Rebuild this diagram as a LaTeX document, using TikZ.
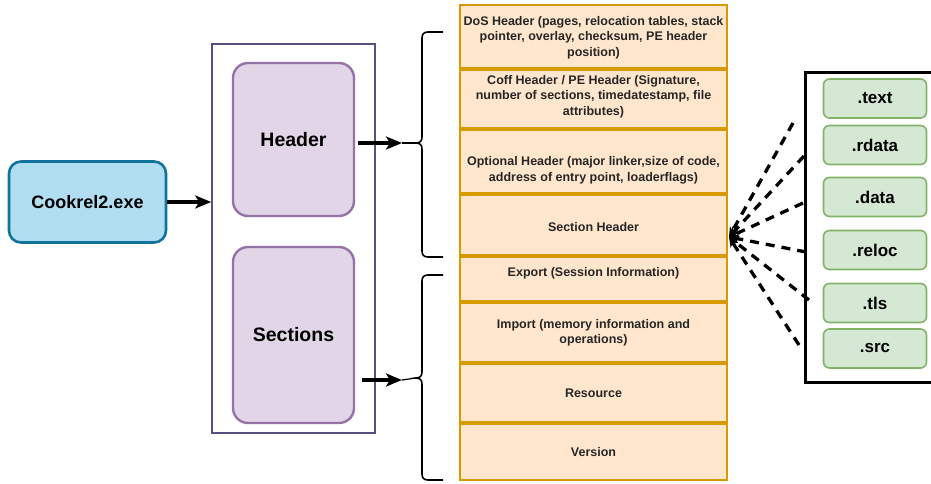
\documentclass[tikz,border=0pt]{standalone}
\usepackage{fontspec}
\setmainfont{Liberation Sans}
\usetikzlibrary{arrows.meta}
\definecolor{exefill}{HTML}{B1DDF0}
\definecolor{exeline}{HTML}{10739E}
\definecolor{partfill}{HTML}{E1D5E7}
\definecolor{partline}{HTML}{9673A6}
\definecolor{outerline}{HTML}{56517E}
\definecolor{rowfill}{HTML}{FFE6CC}
\definecolor{rowline}{HTML}{D79B00}
\definecolor{secfill}{HTML}{D5E8D4}
\definecolor{secline}{HTML}{82B366}
\begin{document}
\begin{tikzpicture}[x=1pt,y=-1pt,
  exebox/.style={draw=exeline,fill=exefill,line width=2.6pt,rounded corners=12pt,
    minimum width=157pt,minimum height=81pt,inner sep=0pt,
    font=\fontsize{18}{20}\selectfont\bfseries},
  partbox/.style={draw=partline,fill=partfill,line width=2.4pt,rounded corners=15pt,
    minimum width=121pt,inner sep=0pt,font=\fontsize{19.5}{22}\selectfont\bfseries},
  outerbox/.style={draw=outerline,line width=1.6pt,inner sep=0pt},
  rowbox/.style={draw=rowline,fill=rowfill,line width=2pt},
  rowtext/.style={align=center,inner sep=0pt,text=black!85,
    font=\fontsize{12.5}{15.5}\selectfont\bfseries},
  secbox/.style={draw=black,line width=3pt,inner sep=0pt},
  sectag/.style={draw=secline,fill=secfill,line width=1.6pt,rounded corners=6pt,
    minimum width=103pt,minimum height=39pt,inner sep=0pt,
    font=\fontsize{17}{19}\selectfont\bfseries},
  bigarrow/.style={line width=3.3pt,-{Stealth[length=16pt,width=13pt,inset=4pt]}},
  bracestyle/.style={line width=1.6pt},
  linkarrow/.style={line width=3.3pt,dash pattern=on 9pt off 7pt,
    -{Stealth[length=10pt,width=9pt]}}]
\useasboundingbox[fill=white] (0,0) rectangle (931,484);

% executable and its two parts
\node[exebox] (exe) at (87.5,202) {Cookrel2.exe};
\node[outerbox,minimum width=163pt,minimum height=389pt] (outer) at (293.5,238.5) {};
\node[partbox,minimum height=153pt] (header) at (293.5,139.5) {Header};
\node[partbox,minimum height=176pt] (sections) at (293.5,335) {Sections};

\draw[bigarrow] (exe.east) -- (outer.west |- exe.east);

% braces
\coordinate (cuspA) at (416,143);
\coordinate (cuspB) at (416,378);
\draw[bracestyle] (443,32) -- (428,32) .. controls (424,32) and (422,34) .. (422,38)
  -- (422,137) .. controls (422,141) and (420,143) .. (cuspA)
  .. controls (420,143) and (422,145) .. (422,149) -- (422,251)
  .. controls (422,255) and (424,257) .. (428,257) -- (443,257);
\draw[bracestyle] (443,275) -- (428,275) .. controls (424,275) and (422,277) .. (422,281)
  -- (422,372) .. controls (422,376) and (420,378) .. (cuspB)
  .. controls (420,378) and (422,380) .. (422,384) -- (422,474)
  .. controls (422,478) and (424,480) .. (428,480) -- (443,480);

\coordinate (hA) at (402,143);
\coordinate (hS) at (402,380);
\coordinate (hAs) at (358,143);
\coordinate (hSs) at (362,380);
\draw[bigarrow] (hAs) -- (hA);
\draw[line width=1.2pt] (hA) -- (cuspA);
\draw[bigarrow] (hSs) -- (hS);
\draw[line width=1.2pt] (hS) -- (cuspB);

% PE layout rows
\path[rowbox] (460,5) rectangle (727,68);
\path[rowbox] (460,70) rectangle (727,128);
\path[rowbox] (460,130) rectangle (727,193);
\path[rowbox] (460,195) rectangle (727,255);
\path[rowbox] (460,257) rectangle (727,301);
\path[rowbox] (460,303) rectangle (727,362);
\path[rowbox] (460,364) rectangle (727,422);
\path[rowbox] (460,424) rectangle (727,480);

\node[rowtext] (t1) at (593.5,37.5) {DoS Header (pages, relocation tables, stack\\pointer, overlay, checksum, PE header\\position)};
\node[rowtext] (t2) at (593.5,96.5) {Coff Header / PE Header (Signature,\\number of sections, timedatestamp, file\\attributes)};
\node[rowtext] (t3) at (593.5,170.5) {Optional Header (major linker,size of code,\\address of entry point, loaderflags)};
\node[rowtext] (t4) at (593.5,227) {Section Header};
\node[rowtext] (t5) at (593.5,273) {Export (Session Information)};
\node[rowtext] (t6) at (593.5,333) {Import (memory information and\\operations)};
\node[rowtext] (t7) at (593.5,393) {Resource};
\node[rowtext] (t8) at (593.5,452) {Version};

% section names
\node[secbox,minimum width=140pt,minimum height=309pt] (secs) at (875,227.5) {};
\node[sectag] (s1) at (875,98.5) {.text};
\node[sectag] (s2) at (875,145) {.rdata};
\node[sectag] (s3) at (875,197) {.data};
\node[sectag] (s4) at (875,250) {.reloc};
\node[sectag] (s5) at (875,303) {.tls};
\node[sectag] (s6) at (875,348.5) {.src};

% links back to the section header
\coordinate (sh) at (729,237);
\coordinate (e1) at (793,123);
\coordinate (e2) at (804,156);
\coordinate (e3) at (803,203);
\coordinate (e4) at (806,252);
\coordinate (e5) at (809,300);
\coordinate (e6) at (799,345);
\foreach \e in {e1,e2,e3,e4,e5,e6}
  \draw[linkarrow] (\e) -- (sh);
\end{tikzpicture}
\end{document}
